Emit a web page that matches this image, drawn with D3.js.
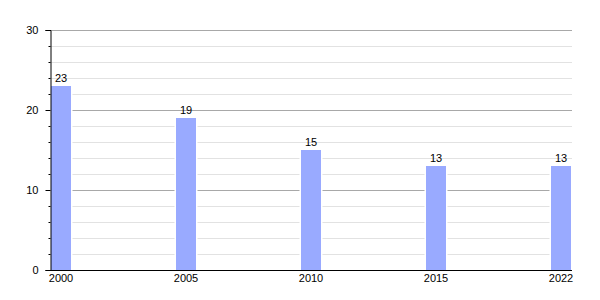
<!DOCTYPE html>
<html><head><meta charset="utf-8">
<script src="https://cdn.jsdelivr.net/npm/d3@7"></script>
<style>body{margin:0;background:#fff}svg{display:block}text{font-family:"Liberation Sans",Arial,sans-serif;font-size:11px;fill:#000}</style>
</head><body><svg id="c" width="600" height="300"></svg>
<script>
const years = ["2000","2005","2010","2015","2022"];
const values = [23,19,15,13,13];
const majorTicks = [0,10,20,30];
const minorTicks = [2,4,6,8,12,14,16,18,22,24,26,28];

(function(){
const svg = d3.select("#c");
const mLeft = 50, mRight = 572, mTop = 30, mBottom = 270;
const x = d3.scaleBand().domain(years).range([51,571]).paddingInner(0.84).paddingOuter(0);
const y = d3.scaleLinear().domain([0,30]).range([mBottom, mTop]);

svg.append("g").selectAll("line").data(minorTicks).join("line")
  .attr("x1", mLeft).attr("x2", mRight)
  .attr("y1", d => Math.round(y(d))+0.5).attr("y2", d => Math.round(y(d))+0.5)
  .attr("stroke", "#e2e2e2").attr("stroke-width", 1);
svg.append("g").selectAll("line").data(majorTicks.filter(d=>d>0)).join("line")
  .attr("x1", mLeft).attr("x2", mRight)
  .attr("y1", d => Math.round(y(d))+0.5).attr("y2", d => Math.round(y(d))+0.5)
  .attr("stroke", "#a8a8a8").attr("stroke-width", 1);

// white halo behind bars
svg.append("g").selectAll("rect").data(values).join("rect")
  .attr("x", (d,i) => x(years[i]) - 1.5)
  .attr("y", d => y(d) - 1)
  .attr("width", x.bandwidth() + 3)
  .attr("height", d => mBottom - y(d) + 1)
  .attr("fill", "#fff");
svg.append("g").selectAll("rect").data(values).join("rect")
  .attr("x", (d,i) => x(years[i]))
  .attr("y", d => y(d))
  .attr("width", x.bandwidth())
  .attr("height", d => mBottom - y(d))
  .attr("fill", "#99aaff");

svg.append("g").selectAll("text").data(values).join("text")
  .attr("x", (d,i) => x(years[i]) + x.bandwidth()/2)
  .attr("y", d => y(d) - 4)
  .attr("text-anchor", "middle")
  .text(d => d);

const yAxis = d3.axisLeft(y).tickValues(majorTicks).tickSize(5).tickPadding(7).tickFormat(d3.format("d"));
const gy = svg.append("g").attr("transform", `translate(${mLeft+0.5},0)`).call(yAxis);
gy.select(".domain").attr("stroke", "#000");
gy.selectAll(".tick line").attr("stroke", "#000");
gy.selectAll(".tick text").style("font-size","11px").attr("font-family", null);
const yMinor = d3.axisLeft(y).tickValues(minorTicks).tickSize(2).tickFormat("");
const gym = svg.append("g").attr("transform", `translate(${mLeft+0.5},0)`).call(yMinor);
gym.select(".domain").remove();
gym.selectAll(".tick line").attr("stroke", "#000");

svg.append("line").attr("x1", mLeft).attr("x2", mRight).attr("y1", mBottom+0.5).attr("y2", mBottom+0.5).attr("stroke","#000");
const xAxis = d3.axisBottom(x).tickSize(0).tickPadding(4);
const gx = svg.append("g").attr("transform", `translate(0,${mBottom})`).call(xAxis);
gx.select(".domain").remove();
gx.selectAll(".tick text").style("font-size","11px").attr("font-family", null);
})();
</script></body></html>
